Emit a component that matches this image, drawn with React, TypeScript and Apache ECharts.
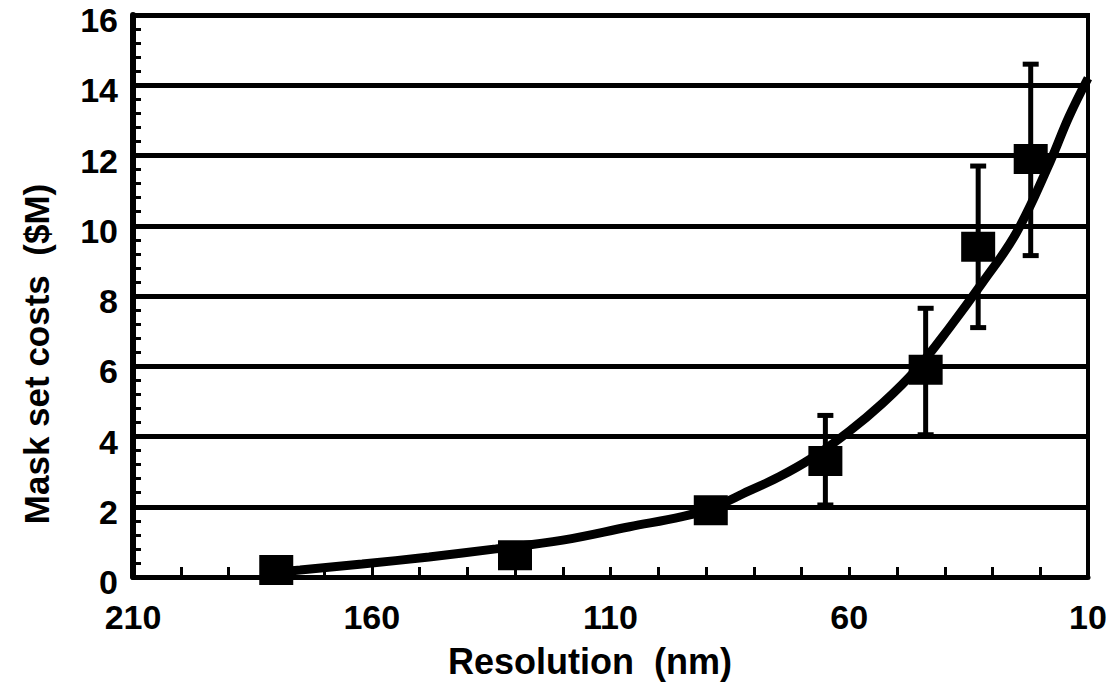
import React, { useEffect, useRef } from "react";
import * as echarts from "echarts";

// Resolution (nm) -> Mask set cost ($M)
const pointX = [180, 130, 89, 65, 44, 33, 22];
const pointY = [0.2, 0.62, 1.9, 3.3, 5.9, 9.4, 11.9];

// error bars: x, low, high
const errX = [65, 44, 33, 22];
const errLow = [2.05, 4.05, 7.1, 9.15];
const errHigh = [4.6, 7.65, 11.7, 14.6];

// fitted curve
const curveX = [180, 175, 162, 148, 134, 120, 106, 95, 89, 81, 75, 68, 60, 53, 46, 39, 32, 25, 18, 14, 10];
const curveY = [0.15, 0.2, 0.37, 0.57, 0.8, 1.05, 1.43, 1.72, 1.95, 2.45, 2.83, 3.37, 4.15, 4.95, 5.9, 7.1, 8.4, 9.8, 11.8, 13.1, 14.2];

const xTicks = [210, 160, 110, 60, 10];
const yTicks = [0, 2, 4, 6, 8, 10, 12, 14, 16];

const FONT = '"Liberation Sans", Arial, Helvetica, sans-serif';

export default function App() {
  const ref = useRef<HTMLDivElement>(null);
  useEffect(() => {
    if (!ref.current) return;
    const chart = echarts.init(ref.current, undefined, { renderer: "svg" });
    const option: any = {
      animation: false,
      backgroundColor: "#fff",
      grid: {
        left: 133,
        right: 32,
        top: 15,
        bottom: 111,
        show: true,
        borderColor: "#000",
        borderWidth: 4,
      },
      xAxis: {
        type: "value",
        inverse: true,
        min: xTicks[xTicks.length - 1],
        max: xTicks[0],
        interval: 50,
        axisLine: { show: true, onZero: false, lineStyle: { color: "#000", width: 5 } },
        axisTick: { show: true, inside: true, length: 10, lineStyle: { color: "#000", width: 3 } },
        minorTick: { show: true, splitNumber: 5, length: 10, lineStyle: { color: "#000", width: 3 } },
        splitLine: { show: false },
        axisLabel: {
          color: "#000",
          fontSize: 34,
          fontWeight: "bold",
          fontFamily: FONT,
          margin: 23,
          showMinLabel: true,
          showMaxLabel: true,
        },
      },
      yAxis: {
        type: "value",
        min: yTicks[0],
        max: yTicks[yTicks.length - 1],
        interval: 2,
        axisLine: { show: true, lineStyle: { color: "#000", width: 6 } },
        axisTick: { show: true, inside: true, length: 9, lineStyle: { color: "#000", width: 3 } },
        minorTick: { show: true, splitNumber: 5, length: 8, lineStyle: { color: "#000", width: 3 } },
        splitLine: { show: true, lineStyle: { color: "#000", width: 5 } },
        axisLabel: {
          color: "#000",
          fontSize: 34,
          fontWeight: "bold",
          fontFamily: FONT,
          margin: 15,
          verticalAlign: "top",
          lineHeight: 10,
        },
      },
      graphic: [
        {
          type: "text",
          x: 590,
          y: 661,
          style: {
            text: "Resolution  (nm)",
            fontSize: 36,
            fontWeight: "bold",
            fontFamily: FONT,
            fill: "#000",
            align: "center",
            verticalAlign: "middle",
          },
        },
        {
          type: "text",
          x: 36,
          y: 354,
          rotation: Math.PI / 2,
          style: {
            text: "Mask set costs  ($M)",
            fontSize: 35,
            fontWeight: "bold",
            fontFamily: FONT,
            fill: "#000",
            align: "center",
            verticalAlign: "middle",
          },
        },
      ],
      series: [
        {
          type: "line",
          data: curveX.map((x, i) => [x, curveY[i]]),
          smooth: 0.4,
          showSymbol: false,
          symbol: "none",
          lineStyle: { color: "#000", width: 9 },
          z: 3,
        },
        {
          type: "custom",
          data: errX.map((x, i) => [x, errLow[i], errHigh[i]]),
          encode: { x: 0, y: [1, 2] },
          renderItem: (params: any, api: any) => {
            const x = api.value(0);
            const lo = api.coord([x, api.value(1)]);
            const hi = api.coord([x, api.value(2)]);
            const hw = 8;
            const st = { stroke: "#000", lineWidth: 5 };
            return {
              type: "group",
              children: [
                { type: "line", shape: { x1: lo[0], y1: lo[1], x2: hi[0], y2: hi[1] }, style: st },
                { type: "line", shape: { x1: lo[0] - hw, y1: lo[1], x2: lo[0] + hw, y2: lo[1] }, style: st },
                { type: "line", shape: { x1: hi[0] - hw, y1: hi[1], x2: hi[0] + hw, y2: hi[1] }, style: st },
              ],
            };
          },
          z: 4,
        },
        {
          type: "scatter",
          data: pointX.map((x, i) => [x, pointY[i]]),
          symbol: "rect",
          symbolSize: [34, 30],
          itemStyle: { color: "#000", opacity: 1 },
          z: 5,
        },
      ],
    };
    chart.setOption(option);
    return () => chart.dispose();
  }, []);
  return (
    <div
      ref={ref}
      style={{ position: "fixed", left: 0, top: 0, width: 1120, height: 688, background: "#fff" }}
    />
  );
}
